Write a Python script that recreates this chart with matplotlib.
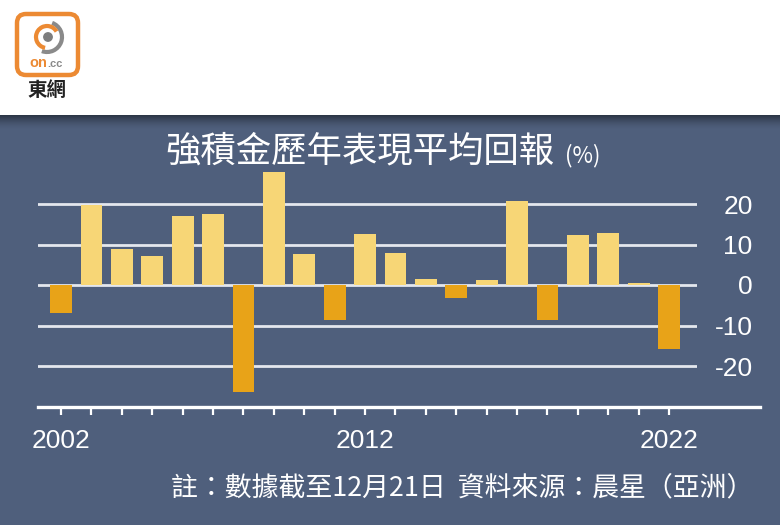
import numpy as np
import matplotlib
matplotlib.use("Agg")
import matplotlib.pyplot as plt
from matplotlib.patches import FancyBboxPatch, Rectangle, Circle, Arc
from matplotlib.lines import Line2D

# --------------- data ---------------
years = list(range(2002, 2023))
returns = [-7.0, 19.8, 8.9, 7.2, 17.0, 17.5, -26.5, 28.0, 7.6, -8.6, 12.6,
           8.0, 1.6, -3.3, 1.2, 20.8, -8.6, 12.4, 12.8, 0.5, -15.8]
yticks = [-20, -10, 0, 10, 20]
xlabels = {2002: "2002", 2012: "2012", 2022: "2022"}

title = "強積金歷年表現平均回報"
note = "註：數據截至12月21日  資料來源：晨星（亞洲）"

bg = "#4f5f7c"
pos_col = "#f7d676"
neg_col = "#e8a318"
grid_col = "#e4e7ee"
cjk = ["Noto Sans CJK TC", "DejaVu Sans"]
num_font = ["Liberation Sans", "DejaVu Sans"]

W, H = 780, 525
fig = plt.figure(figsize=(W / 100, H / 100), dpi=100, facecolor="white")

# --------------- background layer in pixel coords ---------------
back = fig.add_axes([0, 0, 1, 1], zorder=0)
back.set_xlim(0, W)
back.set_ylim(H, 0)
back.axis("off")
back.add_patch(Rectangle((0, 115), W, H - 115, color=bg, lw=0))
# shadow at the top of the panel
shade = np.linspace(1, 0, 40) ** 1.6
shade_rgba = np.zeros((40, 1, 4))
shade_rgba[:, 0, 3] = shade * 0.45
back.imshow(shade_rgba, extent=(0, W, 130, 115), aspect="auto", zorder=1)
back.set_xlim(0, W)
back.set_ylim(H, 0)

# logo
back.add_patch(FancyBboxPatch((17, 14), 61, 61, boxstyle="round,pad=0,rounding_size=9",
                              fc="white", ec="#ec8a33", lw=3.2, zorder=2))
back.add_patch(Arc((47, 37), 30, 30, theta1=-70, theta2=110, color="#8a8a8a", lw=3, zorder=3))
back.add_patch(Arc((47, 37), 22, 22, theta1=100, theta2=330, color="#ec8a33", lw=3, zorder=3))
back.add_patch(Circle((48, 37), 4.2, color="#7d7d7d", zorder=3))
back.text(47, 63, "on", color="#ec8a33", fontsize=10.5, fontweight="bold", ha="right",
          va="center", family=num_font, zorder=3)
back.text(47, 64, ".cc", color="#8a8a8a", fontsize=8, fontweight="bold", ha="left",
          va="center", family=num_font, zorder=3)
back.text(47, 90, "東網", color="#222222", fontsize=14, fontweight="bold", ha="center",
          va="center", family=cjk, zorder=3)

# title and note
back.text(165, 152, title, color="white", fontsize=25.5, ha="left", va="center", family=cjk, zorder=3)
back.text(565, 156, "(%)", color="white", fontsize=16, ha="left", va="center", family=cjk, zorder=3)
back.text(753, 488, note, color="white", fontsize=19.4, ha="right", va="center", family=cjk, zorder=3)

# --------------- chart ---------------
ax = fig.add_axes([38 / W, (H - 406.5) / H, (697 - 38) / W, 243 / H], zorder=2)
ax.patch.set_alpha(0)
colors = [pos_col if v >= 0 else neg_col for v in returns]
ax.bar(years, returns, width=0.72, color=colors, zorder=3)
ax.set_xlim(2001.24, 2022.92)
ax.set_ylim(-30, 30)

for v in yticks:
    ax.axhline(v, color=grid_col, lw=2, zorder=1)

for s in ax.spines.values():
    s.set_visible(False)
# bottom axis line, extended past the grid
ax.add_line(Line2D([0, (760 - 38) / (697 - 38)], [0, 0], transform=ax.transAxes,
                   color="white", lw=2.4, clip_on=False, zorder=4))

ax.set_xticks(years)
ax.set_xticklabels([xlabels.get(y, "") for y in years])
ax.tick_params(axis="x", direction="out", length=6, width=1.6, colors="white",
               labelsize=19, pad=10)
for lab in ax.get_xticklabels():
    lab.set_family(num_font)

ax.yaxis.tick_right()
ax.set_yticks(yticks)
ax.set_yticklabels([str(v) for v in yticks])
ax.tick_params(axis="y", length=0, colors="white", labelsize=19, pad=40)
for lab in ax.get_yticklabels():
    lab.set_family(num_font)
    lab.set_horizontalalignment("right")

fig.savefig("out.png", dpi=100, facecolor="white")
